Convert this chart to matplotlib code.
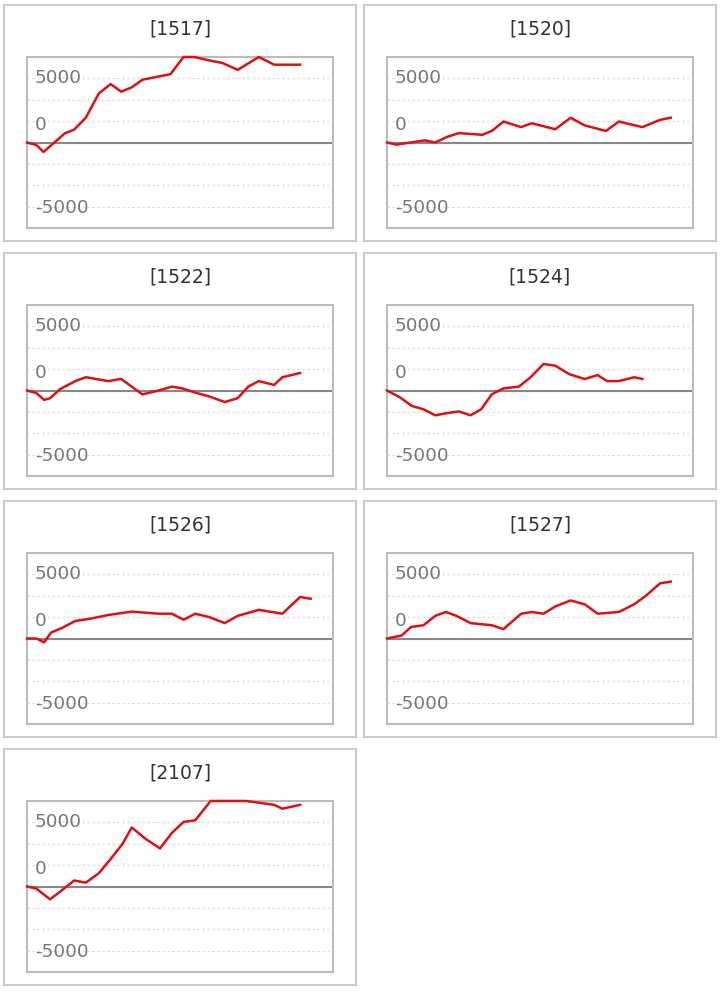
import numpy as np
import matplotlib.pyplot as plt
from matplotlib.patches import Rectangle

# ---------- Data (x = day position, y = running balance) ----------
x_1517 = [0, 0.8, 1.4, 2.2, 3.2, 4.0, 5.0, 6.1, 7.1, 8.0, 8.9, 9.8, 11.1, 12.2, 13.3, 14.2, 15.5, 16.6, 17.9, 19.7, 21.0, 23.2]
y_1517 = [0, -300, -1100, -150, 1060, 1500, 2900, 5730, 6830, 5950, 6450, 7340, 7700, 8000, 10400, 10300, 9600, 9300, 8500, 10000, 9100, 9100]

x_1520 = [0, 0.8, 3.2, 4.1, 5.1, 6.1, 8.1, 8.9, 9.9, 11.4, 12.3, 14.3, 15.6, 16.8, 18.6, 19.7, 21.7, 23.2, 24.1]
y_1520 = [0, -250, 250, 0, 650, 1100, 900, 1350, 2450, 1800, 2250, 1550, 2900, 2000, 1350, 2450, 1800, 2650, 2900]

x_1522 = [0, 0.8, 1.45, 1.96, 2.8, 4.1, 5.0, 6.9, 8.0, 9.8, 11.2, 12.3, 13.2, 14.3, 15.5, 16.8, 17.9, 18.8, 19.7, 21.0, 21.7, 23.2]
y_1522 = [0, -300, -1100, -900, 150, 1100, 1550, 1100, 1350, -450, 0, 450, 250, -250, -700, -1350, -900, 450, 1100, 650, 1550, 2050]

x_1524 = [0, 1.1, 2.1, 3.1, 4.1, 5.1, 6.1, 7.1, 8.0, 8.9, 9.9, 11.2, 12.2, 13.3, 14.3, 15.5, 16.8, 17.9, 18.7, 19.7, 21.0, 21.7]
y_1524 = [0, -800, -1800, -2200, -2900, -2650, -2450, -2900, -2200, -450, 250, 450, 1550, 3100, 2900, 1900, 1350, 1800, 1100, 1100, 1550, 1350]

x_1526 = [0, 0.8, 1.45, 2.05, 3.0, 4.1, 5.5, 6.9, 8.9, 11.2, 12.3, 13.3, 14.3, 15.5, 16.8, 17.9, 19.7, 21.7, 23.2, 24.1]
y_1526 = [0, 0, -450, 700, 1250, 2050, 2350, 2750, 3140, 2900, 2900, 2200, 2900, 2500, 1800, 2650, 3350, 2900, 4850, 4650]

x_1527 = [0, 1.25, 2.05, 3.1, 4.1, 5.0, 5.9, 7.1, 8.9, 9.9, 11.4, 12.3, 13.3, 14.3, 15.6, 16.8, 17.9, 19.7, 21.0, 22.0, 23.2, 24.1]
y_1527 = [0, 350, 1350, 1550, 2650, 3100, 2650, 1800, 1550, 1100, 2900, 3100, 2900, 3750, 4450, 4000, 2900, 3100, 4000, 5000, 6450, 6650]

x_2107 = [0, 0.8, 1.96, 2.96, 4.0, 5.0, 6.1, 7.1, 8.1, 8.9, 10.1, 11.3, 12.3, 13.3, 14.3, 15.6, 17.0, 18.6, 19.7, 21.0, 21.7, 23.2]
y_2107 = [0, -250, -1500, -450, 700, 450, 1550, 3200, 4950, 6900, 5550, 4450, 6250, 7550, 7750, 10500, 11000, 10200, 9800, 9550, 9100, 9550]

titles = ["[1517]", "[1520]", "[1522]", "[1524]", "[1526]", "[1527]", "[2107]"]
xs = [x_1517, x_1520, x_1522, x_1524, x_1526, x_1527, x_2107]
ys = [y_1517, y_1520, y_1522, y_1524, y_1526, y_1527, y_2107]

tick_labels = ["5000", "0", "-5000"]
tick_label_pos = [7600, 2100, -7700]   # where the chart library drew them
grid_vals = [-7500, -5000, -2500, 2500, 5000, 7500]

# ---------- Layout (pixels) ----------
W, H = 720, 992
fig = plt.figure(figsize=(W / 100, H / 100), dpi=100)

for i, (title, x, y) in enumerate(zip(titles, xs, ys)):
    col, row = i % 2, i // 2
    px = 4 + col * 360
    py = 5 + row * 248

    # panel border
    fig.add_artist(Rectangle((px / W, 1 - (py + 236) / H), 352 / W, 236 / H,
                             transform=fig.transFigure, fill=False,
                             ec="#cccccc", lw=1.5))
    fig.text((px + 176) / W, 1 - (py + 24) / H, title, ha="center", va="center",
             fontsize=13.5, color="#333333")

    ax = fig.add_axes([(px + 23) / W, 1 - (py + 223) / H, 306 / W, 171 / H])
    ax.set_xlim(0, 26)
    ax.set_ylim(-10000, 10000)
    ax.set_xticks([])
    ax.set_yticks(grid_vals)
    ax.set_yticklabels([])
    ax.tick_params(length=0)
    ax.grid(axis="y", color="#dddddd", linestyle=(0, (2, 2)), lw=0.9)
    for s in ax.spines.values():
        s.set_color("#bbbbbb")
        s.set_linewidth(1.5)
    ax.axhline(0, color="#888888", lw=1.5)

    for lab, pos in zip(tick_labels, tick_label_pos):
        ax.text(0.026, pos, lab, transform=ax.get_yaxis_transform(),
                ha="left", va="center", fontsize=13.2, color="#777777")

    ax.plot(x, np.clip(y, -10000, 10000), color="#dd1111", lw=1.8,
            clip_on=False, zorder=3)

fig.savefig("out.png", dpi=100)
